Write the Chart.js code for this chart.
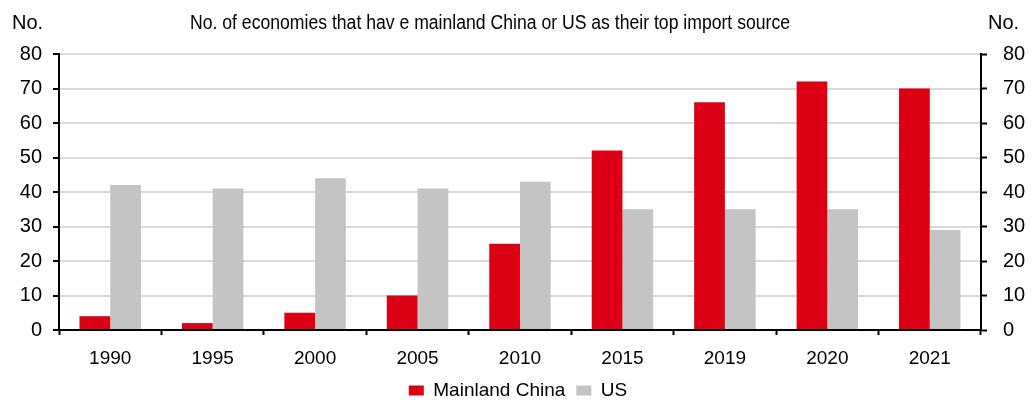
<!DOCTYPE html>
<html>
<head>
<meta charset="utf-8">
<script src="https://cdn.jsdelivr.net/npm/chart.js@4/dist/chart.umd.min.js"></script>
<style>
  html, body { margin: 0; padding: 0; background: #fff; }
  #wrap { width: 1036px; height: 410px; position: relative; }
</style>
</head>
<body>
<div id="wrap"><canvas id="importChart"></canvas></div>
<script>
// Top import source counts by year
const years = ["1990", "1995", "2000", "2005", "2010", "2015", "2019", "2020", "2021"];
const chinaCounts = [4, 2, 5, 10, 25, 52, 66, 72, 70];
const usCounts = [42, 41, 44, 41, 43, 35, 35, 35, 29];
const yTicks = [0, 10, 20, 30, 40, 50, 60, 70, 80];

const chartTitle = "No. of economies that hav e mainland China or US as their top import source";
const axisUnit = "No.";

const FONT = "'Liberation Sans', Arial, sans-serif";
const RED = "#dc0014";
const GREY = "#c4c4c4";

// header text: title squeezed a bit, unit label over each axis
const headerPlugin = {
  id: "header",
  afterDraw(chart) {
    const ctx = chart.ctx;
    ctx.save();
    ctx.fillStyle = "#000";
    ctx.font = "20px " + FONT;
    ctx.textBaseline = "alphabetic";
    ctx.textAlign = "left";
    ctx.fillText(axisUnit, 12, 29);
    ctx.fillText(axisUnit, 988, 29);

    const w = ctx.measureText(chartTitle).width;
    const k = 600 / w;
    ctx.translate(490, 29);
    ctx.scale(k, 1);
    ctx.textAlign = "center";
    ctx.fillText(chartTitle, 0, 0);
    ctx.restore();
  }
};

const yAxisBase = {
  min: 0,
  max: 80,
  afterBuildTicks(scale) {
    scale.ticks = yTicks.map(v => ({ value: v }));
  },
  border: { color: "#000", width: 2 },
  ticks: { color: "#000", font: { family: FONT, size: 20 } }
};

new Chart(document.getElementById("importChart"), {
  type: "bar",
  data: {
    labels: years,
    datasets: [
      { label: "Mainland China", data: chinaCounts, backgroundColor: RED, yAxisID: "y" },
      { label: "US", data: usCounts, backgroundColor: GREY, yAxisID: "y" }
    ]
  },
  plugins: [headerPlugin],
  options: {
    responsive: true,
    maintainAspectRatio: false,
    animation: false,
    categoryPercentage: 0.6,
    barPercentage: 1.0,
    layout: { padding: { top: 54, left: 0, right: 0, bottom: 0 } },
    plugins: {
      legend: {
        position: "bottom",
        labels: {
          color: "#000",
          font: { family: FONT, size: 19 },
          boxWidth: 15,
          boxHeight: 10,
          padding: 11
        }
      },
      tooltip: { enabled: false }
    },
    scales: {
      x: {
        grid: {
          offset: true,
          drawOnChartArea: false,
          tickLength: 5,
          tickColor: "#000",
          tickWidth: 2
        },
        border: { color: "#000", width: 2 },
        ticks: { color: "#000", padding: 12, font: { family: FONT, size: 19 } },
        afterFit(scale) { scale.height = 40; }
      },
      y: {
        ...yAxisBase,
        position: "left",
        grid: { color: "#d9d9d9", lineWidth: 2, tickLength: 6, tickColor: "#000", tickWidth: 2 },
        ticks: { ...yAxisBase.ticks, padding: 11 },
        afterFit(scale) { scale.width = 59; }
      },
      y2: {
        ...yAxisBase,
        position: "right",
        grid: { drawOnChartArea: false, tickLength: 6, tickColor: "#000", tickWidth: 2 },
        ticks: { ...yAxisBase.ticks, padding: 16 },
        afterFit(scale) { scale.width = 55; }
      }
    }
  }
});
</script>
</body>
</html>
